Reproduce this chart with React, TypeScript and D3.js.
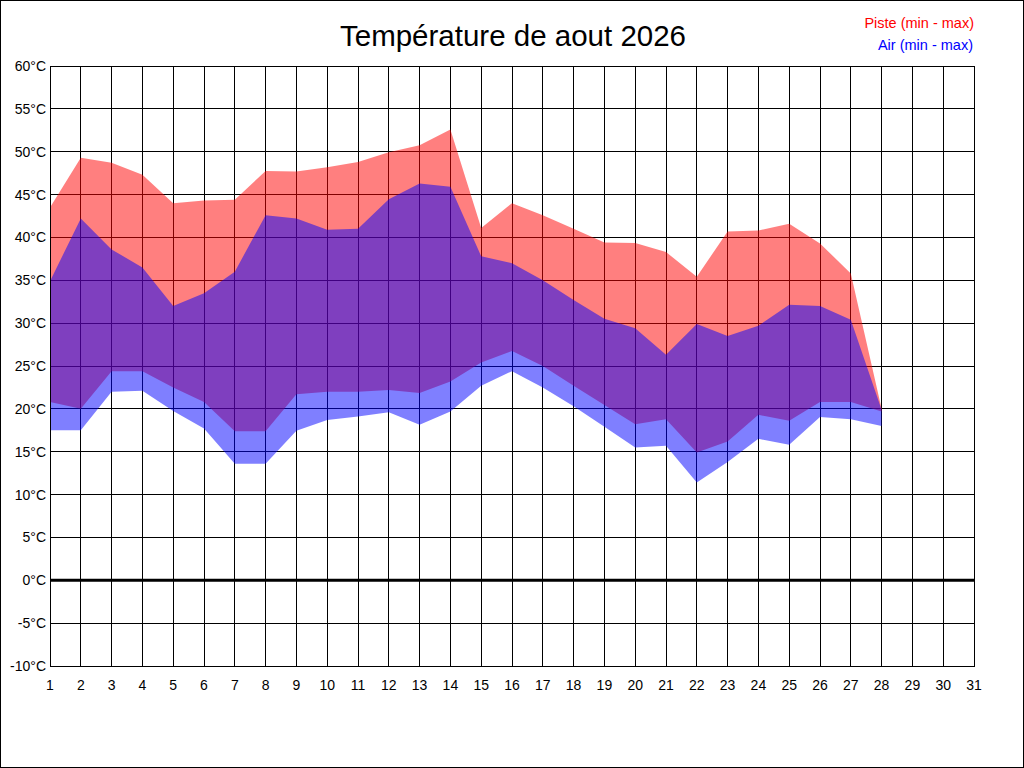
import * as d3 from "d3";

const days = d3.range(1, 32);
const dataDays = d3.range(1, 29);

// Température de la piste (min / max), °C
const pisteMax = [
  43.5, 49.3, 48.7, 47.3, 44.0, 44.3, 44.4, 47.75, 47.7, 48.2, 48.8, 49.95, 50.75, 52.6,
  41.1, 44.0, 42.6, 41.0, 39.4, 39.35, 38.3, 35.4, 40.7, 40.8, 41.6, 39.3, 35.8, 20.0,
];
const pisteMin = [
  20.8, 20.0, 24.4, 24.4, 22.5, 20.8, 17.4, 17.4, 21.7, 22.0, 22.0, 22.2, 21.85, 23.2,
  25.4, 26.75, 25.0, 22.7, 20.45, 18.2, 18.8, 14.9, 16.2, 19.3, 18.6, 20.8, 20.8, 19.7,
];

// Température de l'air (min / max), °C
const airMax = [
  34.9, 42.2, 38.6, 36.5, 32.0, 33.5, 36.0, 42.6, 42.2, 40.9, 41.0, 44.45, 46.3, 45.9,
  37.8, 37.0, 35.0, 32.7, 30.5, 29.4, 26.3, 29.9, 28.5, 29.7, 32.15, 32.0, 30.4, 19.9,
];
const airMin = [
  17.5, 17.5, 22.0, 22.1, 19.75, 17.7, 13.6, 13.6, 17.45, 18.7, 19.1, 19.6, 18.15, 19.7,
  22.7, 24.4, 22.5, 20.3, 17.9, 15.5, 15.7, 11.4, 13.8, 16.5, 15.8, 19.05, 18.8, 18.0,
];

const yTicks = d3.range(-10, 61, 5);

const width = 1024;
const height = 768;
const left = 50;
const right = 974;
const top = 66;
const bottom = 666;
const font = "Arial, 'Liberation Sans', sans-serif";

export default function App() {
  const x = d3.scaleLinear([1, 31], [left, right]);
  const y = d3.scaleLinear([-10, 60], [bottom, top]);

  const band = (lo: number[], hi: number[]) =>
    d3
      .area<number>()
      .x((d) => x(d))
      .y0((_, i) => y(lo[i]))
      .y1((_, i) => y(hi[i]))(dataDays) ?? "";

  return (
    <svg
      width={width}
      height={height}
      style={{ position: "absolute", left: 0, top: 0, background: "#fff" }}
      fontFamily={font}
    >
      <rect x={0.5} y={0.5} width={width - 1} height={height - 1} fill="#fff" stroke="#000" />

      {/* grille */}
      <g stroke="#000" strokeWidth={1} shapeRendering="crispEdges">
        {yTicks.map((t) => (
          <line key={"h" + t} x1={left} x2={right} y1={y(t)} y2={y(t)} />
        ))}
        {days.map((dd) => (
          <line key={"v" + dd} x1={x(dd)} x2={x(dd)} y1={top} y2={bottom} />
        ))}
      </g>
      <line x1={left} x2={right} y1={y(0)} y2={y(0)} stroke="#000" strokeWidth={3} />

      {/* bandes min - max */}
      <path d={band(pisteMin, pisteMax)} fill="rgb(255,0,0)" fillOpacity={0.5} />
      <path d={band(airMin, airMax)} fill="rgb(0,0,255)" fillOpacity={0.5} />

      <rect
        x={left}
        y={top}
        width={right - left}
        height={bottom - top}
        fill="none"
        stroke="#000"
        shapeRendering="crispEdges"
      />

      {/* axes */}
      <g fontSize={14} fill="#000" textAnchor="end">
        {yTicks.map((t) => (
          <text key={t} x={left - 4} y={y(t) + 5}>
            {t}°C
          </text>
        ))}
      </g>
      <g fontSize={14} fill="#000" textAnchor="middle">
        {days.map((dd) => (
          <text key={dd} x={x(dd)} y={690}>
            {dd}
          </text>
        ))}
      </g>

      <text x={513} y={46} fontSize={29.5} textAnchor="middle" fill="#000">
        Température de aout 2026
      </text>
      <text x={974} y={28} fontSize={14.5} textAnchor="end" fill="#ff0000">
        Piste (min - max)
      </text>
      <text x={973} y={50} fontSize={14.5} textAnchor="end" fill="#0000ff">
        Air (min - max)
      </text>
    </svg>
  );
}
